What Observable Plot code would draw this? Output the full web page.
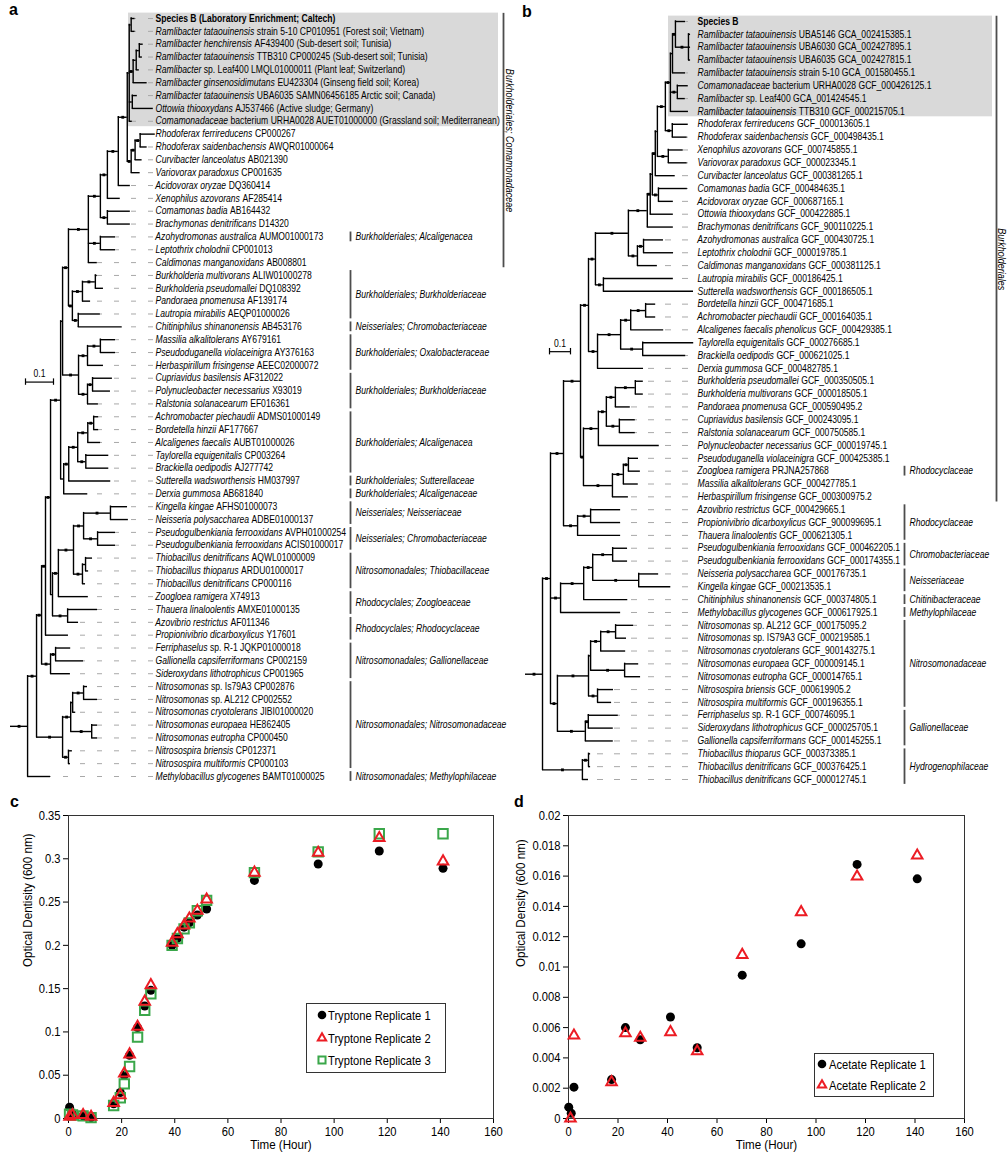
<!DOCTYPE html>
<html><head><meta charset="utf-8">
<script src="https://cdn.jsdelivr.net/npm/d3@7"></script>
<script src="https://cdn.jsdelivr.net/npm/@observablehq/plot@0.6"></script>
<style>
body{margin:0;background:#fff;}
#page{position:relative;width:1007px;height:1159px;overflow:hidden;background:#fff;}
.panel{position:absolute;}
.letter{position:absolute;font:bold 16px "Liberation Sans",Arial,sans-serif;color:#000;}
</style></head><body><div id="page"></div>
<script>
// ---------------- DATA ----------------
const treeALabels = [
"Species B (Laboratory Enrichment; Caltech)",
"*Ramlibacter tataouinensis* strain 5-10 CP010951 (Forest soil; Vietnam)",
"*Ramlibacter henchirensis* AF439400 (Sub-desert soil; Tunisia)",
"*Ramlibacter tataouinensis* TTB310 CP000245 (Sub-desert soil; Tunisia)",
"*Ramlibacter* sp. Leaf400 LMQL01000011 (Plant leaf; Switzerland)",
"*Ramlibacter ginsenosidimutans* EU423304 (Ginseng field soil; Korea)",
"*Ramlibacter tataouinensis* UBA6035 SAMN06456185 Arctic soil; Canada)",
"*Ottowia thiooxydans* AJ537466 (Active sludge; Germany)",
"*Comamonadaceae* bacterium URHA0028 AUET01000000 (Grassland soil; Mediterranean)",
"*Rhodoferax ferrireducens* CP000267",
"*Rhodoferax saidenbachensis* AWQR01000064",
"*Curvibacter lanceolatus* AB021390",
"*Variovorax paradoxus* CP001635",
"*Acidovorax oryzae* DQ360414",
"*Xenophilus azovorans* AF285414",
"*Comamonas badia* AB164432",
"*Brachymonas denitrificans* D14320",
"*Azohydromonas australica* AUMO01000173",
"*Leptothrix cholodnii* CP001013",
"*Caldimonas manganoxidans* AB008801",
"*Burkholderia multivorans* ALIW01000278",
"*Burkholderia pseudomallei* DQ108392",
"*Pandoraea pnomenusa* AF139174",
"*Lautropia mirabilis* AEQP01000026",
"*Chitiniphilus shinanonensis* AB453176",
"*Massilia alkalitolerans* AY679161",
"*Pseudoduganella violaceinigra* AY376163",
"*Herbaspirillum frisingense* AEEC02000072",
"*Cupriavidus basilensis* AF312022",
"*Polynucleobacter necessarius* X93019",
"*Ralstonia solanacearum* EF016361",
"*Achromobacter piechaudii* ADMS01000149",
"*Bordetella hinzii* AF177667",
"*Alcaligenes faecalis* AUBT01000026",
"*Taylorella equigenitalis* CP003264",
"*Brackiella oedipodis* AJ277742",
"*Sutterella wadsworthensis* HM037997",
"*Derxia gummosa* AB681840",
"*Kingella kingae* AFHS01000073",
"*Neisseria polysaccharea* ADBE01000137",
"*Pseudogulbenkiania ferrooxidans* AVPH01000254",
"*Pseudogulbenkiania ferrooxidans* ACIS01000017",
"*Thiobacillus denitrificans* AQWL01000009",
"*Thiobacillus thioparus* ARDU01000017",
"*Thiobacillus denitrificans* CP000116",
"*Zoogloea ramigera* X74913",
"*Thauera linaloolentis* AMXE01000135",
"*Azovibrio restrictus* AF011346",
"*Propionivibrio dicarboxylicus* Y17601",
"*Ferriphaselus* sp. R-1 JQKP01000018",
"*Gallionella capsiferriformans* CP002159",
"*Sideroxydans lithotrophicus* CP001965",
"*Nitrosomonas* sp. Is79A3 CP002876",
"*Nitrosomonas* sp. AL212 CP002552",
"*Nitrosomonas cryotolerans* JIBI01000020",
"*Nitrosomonas europaea* HE862405",
"*Nitrosomonas eutropha* CP000450",
"*Nitrosospira briensis* CP012371",
"*Nitrosospira multiformis* CP000103",
"*Methylobacillus glycogenes* BAMT01000025"
];
const treeABold = [1];
// tree A topology (leaf numbers refer to treeALabels), branch lengths in substitutions/site
const aRamli = "((1:0.014,2:0.014):0.007,(((3:0.014,4:0.011):0.011,5:0.011):0.011,6:0.05):0.014,(7:0.018,8:0.075):0.011,9:0.011)";
const aRhodo = "(((10:0.054,11:0.025):0.018,12:0.025):0.014,13:0.032)";
const aF = `((((${aRamli}:0.007,${aRhodo}:0.014):0.032,14:0.043):0.039,15:0.046):0.025,(16:0.082,17:0.082):0.025)`;
const aE = `(${aF}:0.043,(18:0.054,19:0.054):0.043,20:0.032)`;
const aK = "(((21:0.007,22:0.029):0.046,23:0.029):0.036,(24:0.079,25:0.157):0.021)";
const aP = "(((26:0.054,27:0.054):0.046,28:0.057):0.032,((29:0.071,30:0.064):0.018,31:0.039):0.032)";
const aQ = `((${aE}:0.071,${aK}:0.014):0.021,${aP}:0.057)`;
const aT = "(((((32:0.018,33:0.018):0.021,34:0.046):0.036,(35:0.082,36:0.082):0.029):0.032,37:0.15):0.018,38:0.086)";
const aU = `(${aQ}:0.007,${aT}:0.011)`;
const aV = "(((39:0.061,40:0.064):0.096,(41:0.064,42:0.064):0.05):0.036,((43:0.025,44:0.011):0.011,45:0.011):0.032)";
const aZ = `((${aV}:0.054,46:0.107):0.021,(47:0.107,48:0.039):0.054)`;
const aAB = `((${aU}:0.036,${aZ}:0.007):0.018,49:0.082)`;
const aGal = "((50:0.054,51:0.1):0.018,52:0.071)";
const aNitro = "((((53:0.014,54:0.05):0.039,55:0.011):0.007,(56:0.021,57:0.021):0.075):0.029,(58:0.014,59:0.007):0.021)";
const treeANewick = `(((${aAB}:0.014,${aGal}:0.032):0.018,${aNitro}:0.093):0.032,60:0.082):0.061`;
const treeAGroups = [
  {from: 18, to: 18, name: "Burkholderiales; Alcaligenacea"},
  {from: 21, to: 24, name: "Burkholderiales; Burkholderiaceae"},
  {from: 25, to: 25, name: "Neisseriales; Chromobacteriaceae"},
  {from: 26, to: 28, name: "Burkholderiales; Oxalobacteraceae"},
  {from: 29, to: 31, name: "Burkholderiales; Burkholderiaceae"},
  {from: 32, to: 36, name: "Burkholderiales; Alcaligenacea"},
  {from: 37, to: 37, name: "Burkholderiales; Sutterellaceae"},
  {from: 38, to: 38, name: "Burkholderiales; Alcaligenaceae"},
  {from: 39, to: 40, name: "Neisseriales; Neisseriaceae"},
  {from: 41, to: 42, name: "Neisseriales; Chromobacteriaceae"},
  {from: 43, to: 45, name: "Nitrosomonadales; Thiobacillaceae"},
  {from: 46, to: 47, name: "Rhodocyclales; Zoogloeaceae"},
  {from: 48, to: 49, name: "Rhodocyclales; Rhodocyclaceae"},
  {from: 50, to: 52, name: "Nitrosomonadales; Gallionellaceae"},
  {from: 53, to: 59, name: "Nitrosomonadales; Nitrosomonadaceae"},
  {from: 60, to: 60, name: "Nitrosomonadales; Methylophilaceae"}
];
const treeAWide = {from: 1, to: 20, name: "Burkholderiales; Comamonadaceae"};

const treeBLabels = [
"Species B",
"*Ramlibacter tataouinensis* UBA5146 GCA_002415385.1",
"*Ramlibacter tataouinensis* UBA6030 GCA_002427895.1",
"*Ramlibacter tataouinensis* UBA6035 GCA_002427815.1",
"*Ramlibacter tataouinensis* strain 5-10 GCA_001580455.1",
"*Comamonadaceae* bacterium URHA0028 GCF_000426125.1",
"*Ramlibacter* sp. Leaf400 GCA_001424545.1",
"*Ramlibacter tataouinensis* TTB310 GCF_000215705.1",
"*Rhodoferax ferrireducens* GCF_000013605.1",
"*Rhodoferax saidenbachensis* GCF_000498435.1",
"*Xenophilus azovorans* GCF_000745855.1",
"*Variovorax paradoxus* GCF_000023345.1",
"*Curvibacter lanceolatus* GCF_000381265.1",
"*Comamonas badia* GCF_000484635.1",
"*Acidovorax oryzae* GCF_000687165.1",
"*Ottowia thiooxydans* GCF_000422885.1",
"*Brachymonas denitrificans* GCF_900110225.1",
"*Azohydromonas australica* GCF_000430725.1",
"*Leptothrix cholodnii* GCF_000019785.1",
"*Caldimonas manganoxidans* GCF_000381125.1",
"*Lautropia mirabilis* GCF_000186425.1",
"*Sutterella wadsworthensis* GCF_000186505.1",
"*Bordetella hinzii* GCF_000471685.1",
"*Achromobacter piechaudii* GCF_000164035.1",
"*Alcaligenes faecalis phenolicus* GCF_000429385.1",
"*Taylorella equigenitalis* GCF_000276685.1",
"*Brackiella oedipodis* GCF_000621025.1",
"*Derxia gummosa* GCF_000482785.1",
"*Burkholderia pseudomallei* GCF_000350505.1",
"*Burkholderia multivorans* GCF_000018505.1",
"*Pandoraea pnomenusa* GCF_000590495.2",
"*Cupriavidus basilensis* GCF_000243095.1",
"*Ralstonia solanacearum* GCF_000750585.1",
"*Polynucleobacter necessarius* GCF_000019745.1",
"*Pseudoduganella violaceinigra* GCF_000425385.1",
"*Zoogloea ramigera* PRJNA257868",
"*Massilia alkalitolerans* GCF_000427785.1",
"*Herbaspirillum frisingense* GCF_000300975.2",
"*Azovibrio restrictus* GCF_000429665.1",
"*Propionivibrio dicarboxylicus* GCF_900099695.1",
"*Thauera linaloolentis* GCF_000621305.1",
"*Pseudogulbenkiania ferrooxidans* GCF_000462205.1",
"*Pseudogulbenkiania ferrooxidans* GCF_000174355.1",
"*Neisseria polysaccharea* GCF_000176735.1",
"*Kingella kingae* GCF_000213535.1",
"*Chitiniphilus shinanonensis* GCF_000374805.1",
"*Methylobacillus glycogenes* GCF_000617925.1",
"*Nitrosomonas* sp. AL212 GCF_000175095.2",
"*Nitrosomonas* sp. IS79A3 GCF_000219585.1",
"*Nitrosomonas cryotolerans* GCF_900143275.1",
"*Nitrosomonas europaea* GCF_000009145.1",
"*Nitrosomonas eutropha* GCF_000014765.1",
"*Nitrosospira briensis* GCF_000619905.2",
"*Nitrosospira multiformis* GCF_000196355.1",
"*Ferriphaselus* sp. R-1 GCF_000746095.1",
"*Sideroxydans lithotrophicus* GCF_000025705.1",
"*Gallionella capsiferriformans* GCF_000145255.1",
"*Thiobacillus thioparus* GCF_000373385.1",
"*Thiobacillus denitrificans* GCF_000376425.1",
"*Thiobacillus denitrificans* GCF_000012745.1"
];
const treeBBold = [1];
const bSU = "(1:0.048,(2:0.01,3:0.01,4:0.01):0.062)";
const bG2 = `((${bSU}:0.014,5:0.062):0.01,(6:0.052,7:0.038):0.033,8:0.086)`;
const bG000 = `(((${bG2}:0.024,(9:0.076,10:0.071):0.033):0.038,(11:0.071,12:0.09):0.052):0.01,13:0.095)`;
const bCC = `(((${bG000}:0.014,(14:0.138,15:0.071):0.029):0.01,16:0.11):0.014,17:0.124)`;
const bC595 = `((${bCC}:0.09,((18:0.095,19:0.143):0.029,20:0.095):0.043):0.157,(21:0.333,22:0.429):0.038)`;
const bAlcD = "((((23:0.048,24:0.048):0.071,25:0.157):0.048,(26:0.243,27:0.205):0.105):0.11,28:0.219)";
const bBurk = "((((29:0.038,30:0.038):0.095,31:0.071):0.043,(32:0.076,33:0.076):0.062):0.038,34:0.29)";
const bOxalo = "(((35:0.048,36:0.057):0.024,37:0.071):0.052,38:0.076)";
const bBK = `((${bC595}:0.033,${bAlcD}:0.043):0.038,(${bBurk}:0.071,${bOxalo}:0.138):0.014)`;
const bRhodo = "((39:0.143,40:0.143):0.062,41:0.205)";
const bNM = "((((42:0.071,43:0.071):0.095,(44:0.095,45:0.152):0.219):0.043,46:0.21):0.11,47:0.286)";
const bN = "((((48:0.086,49:0.052):0.071,50:0.119):0.048,(51:0.067,52:0.076):0.162):0.01,(53:0.076,54:0.067):0.043)";
const bG = "((55:0.143,56:0.119):0.014,57:0.133)";
const treeBNewick = `(((${bBK}:0.081,${bRhodo}:0.067):0.062,${bNM}:0.048,(${bN}:0.148,${bG}:0.133):0.033):0.038,((58:0.01,59:0.01):0.029,60:0.029):0.19):0.081`;
const treeBGroups = [
  {from: 36, to: 36, name: "Rhodocyclaceae"},
  {from: 39, to: 41, name: "Rhodocyclaceae"},
  {from: 42, to: 43, name: "Chromobacteriaceae"},
  {from: 44, to: 45, name: "Neisseriaceae"},
  {from: 46, to: 46, name: "Chitinibacteraceae"},
  {from: 47, to: 47, name: "Methylophilaceae"},
  {from: 48, to: 54, name: "Nitrosomonadaceae"},
  {from: 55, to: 57, name: "Gallionellaceae"},
  {from: 58, to: 60, name: "Hydrogenophilaceae"}
];
const treeBWide = {from: 1, to: 38, name: "Burkholderiales"};
const scaleBarLength = 0.1;

// growth curves
const tryptoneTime = [0.4, 1.5, 5.5, 8.5, 17, 19.5, 21, 23, 26, 28.7, 31, 39, 41, 43.5, 45.5, 48.5, 52, 70, 94, 117, 141];
const tryptoneRep1 = [0.013, 0.005, 0.003, 0.001, 0.017, 0.030, 0.050, 0.073, 0.105, 0.130, 0.148, 0.200, 0.208, 0.221, 0.226, 0.235, 0.242, 0.275, 0.294, 0.309, 0.289];
const tryptoneRep2 = [0.002, 0.004, 0.004, 0.002, 0.018, 0.027, 0.052, 0.074, 0.106, 0.135, 0.154, 0.203, 0.213, 0.223, 0.231, 0.240, 0.253, 0.284, 0.307, 0.324, 0.297];
const tryptoneRep3 = [0.005, 0.004, 0.003, 0.001, 0.015, 0.024, 0.040, 0.060, 0.094, 0.125, 0.144, 0.200, 0.208, 0.219, 0.226, 0.240, 0.252, 0.284, 0.308, 0.329, 0.329];
const acetateTime1 = [0.1, 1.1, 2.2, 17.4, 23, 29, 41.2, 52, 70.2, 94, 116.6, 140.9];
const acetateRep1 = [0.00075, 0.00035, 0.00207, 0.00257, 0.0060, 0.0052, 0.0067, 0.00467, 0.00946, 0.01153, 0.01677, 0.01582];
const acetateTime2 = [0.8, 2.2, 17.4, 23, 29, 41.2, 52, 70.2, 94, 116.6, 140.9];
const acetateRep2 = [0.0, 0.00548, 0.0024, 0.00563, 0.00533, 0.0057, 0.00444, 0.0108, 0.01362, 0.01597, 0.01736];
const tryptoneTicksY = d3.range(0, 0.3501, 0.05);
const acetateTicksY = d3.range(0, 0.02001, 0.002);
const timeTicks = d3.range(0, 161, 20);

// ---------------- HELPERS ----------------
const FONT = '"Liberation Sans",Arial,Helvetica,sans-serif';
const CONDENSE = 0.86; // the reference's lettering is horizontally narrow
const page = document.getElementById("page");
const ctx = document.createElement("canvas").getContext("2d");
function textWidth(s, style, size) {
  ctx.font = `${style} ${size}px "Liberation Sans", Arial, sans-serif`;
  return ctx.measureText(s).width * CONDENSE;
}
function place(el, left, top) {
  const d = document.createElement("div");
  d.className = "panel"; d.style.left = left + "px"; d.style.top = top + "px";
  d.appendChild(el); page.appendChild(d); return d;
}
function letter(t, left, top) {
  const d = document.createElement("div"); d.className = "letter";
  d.style.left = left + "px"; d.style.top = top + "px"; d.textContent = t; page.appendChild(d);
}
function parseNewick(s) {
  let i = 0;
  function node() {
    const n = {children: []};
    if (s[i] === "(") {
      i++;
      n.children.push(node());
      while (s[i] === ",") { i++; n.children.push(node()); }
      i++;
    }
    let name = "";
    while (i < s.length && !":,()".includes(s[i])) name += s[i++];
    n.name = name; n.length = 0;
    if (s[i] === ":") { i++; let num = ""; while (i < s.length && !",()".includes(s[i])) num += s[i++]; n.length = +num; }
    return n;
  }
  return node();
}
function layoutTree(root) {
  const nodes = [];
  (function visit(n, px) {
    n.px = px; n.x = px + n.length; nodes.push(n);
    if (n.children.length) {
      n.children.forEach(c => visit(c, n.x));
      n.y = (n.children[0].y + n.children[n.children.length - 1].y) / 2;
    } else { n.leaf = +n.name - 1; n.y = n.leaf; }
  })(root, 0);
  return nodes;
}
// split "*italic* normal" labels into separately positioned runs
function labelRuns(leaves, labels, boldList, size) {
  const bold = new Set(boldList.map(b => b - 1));
  const runs = [];
  leaves.forEach(l => {
    let off = 0;
    labels[l.leaf].split("*").forEach((seg, i) => {
      if (!seg) return;
      const style = bold.has(l.leaf) ? "bold" : (i % 2 === 1 ? "italic" : "normal");
      const lead = seg.length - seg.trimStart().length;
      off += lead * textWidth(" ", style, size);
      const txt = seg.trim();
      if (txt) runs.push({y: l.y, text: txt, style, off});
      off += textWidth(txt, style, size);
      const trail = seg.length - seg.trimEnd().length;
      if (seg.trim()) off += trail * textWidth(" ", style, size);
    });
  });
  return runs;
}

function drawTree(cfg) {
  const root = parseNewick(cfg.newick);
  const nodes = layoutTree(root);
  const xs = d3.scaleLinear([0, 1], cfg.xRange);
  const pxPerUnit = cfg.xRange[1] - cfg.xRange[0];
  const leaves = nodes.filter(n => !n.children.length);
  const internal = nodes.filter(n => n.children.length);
  const labelX = xs.invert(cfg.labelPx), dashX = xs.invert(cfg.dashPx), barX = xs.invert(cfg.barPx), wideX = xs.invert(cfg.widePx);
  const runs = labelRuns(leaves, cfg.labels, cfg.bold, cfg.fontSize);
  const runX = d => labelX + d.off / pxPerUnit;
  const markers = nodes.filter(n => n.children.length && n.length >= 0.012).map(n => ({x: (n.px + n.x) / 2, y: n.y}));
  const sb = cfg.scaleBar;
  const sbX1 = xs.invert(sb.px), sbX2 = sbX1 + scaleBarLength;
  return Plot.plot({
    width: cfg.width, height: cfg.height, margin: 0,
    x: {domain: [0, 1], range: cfg.xRange, axis: null},
    y: {domain: [0, 59], range: cfg.yRange, axis: null},
    style: {background: "transparent", overflow: "visible", fontFamily: FONT, color: "black"},
    marks: [
      Plot.rect([cfg.box], {x1: xs.invert(cfg.box.left), x2: xs.invert(cfg.box.right), y1: d => d.from - 1 - 0.42, y2: d => d.to - 1 + 0.42, fill: "#d9d9d9"}),
      Plot.ruleY(leaves.filter(l => l.x < dashX), {y: "y", x1: dashX, x2: "x", stroke: "#a8a8a8", strokeWidth: 1, strokeDasharray: cfg.dash}),
      Plot.ruleY(nodes.filter(n => n.length > 0), {y: "y", x1: "px", x2: "x", stroke: "black", strokeWidth: 1.4}),
      Plot.ruleX(internal, {x: "x", y1: n => n.children[0].y, y2: n => n.children[n.children.length - 1].y, stroke: "black", strokeWidth: 1.4, strokeLinecap: "square"}),
      Plot.dot(markers, {x: "x", y: "y", symbol: "square", r: 1.6, fill: "black"}),
      Plot.text(runs.filter(r => r.style === "italic"), {x: runX, y: "y", text: "text", textAnchor: "start", fontStyle: "italic", fontSize: cfg.fontSize}),
      Plot.text(runs.filter(r => r.style === "normal"), {x: runX, y: "y", text: "text", textAnchor: "start", fontSize: cfg.fontSize}),
      Plot.text(runs.filter(r => r.style === "bold"), {x: runX, y: "y", text: "text", textAnchor: "start", fontWeight: "bold", fontSize: cfg.fontSize}),
      Plot.ruleX(cfg.groups, {x: barX, y1: d => d.from - 1 - 0.38, y2: d => d.to - 1 + 0.38, stroke: "#4d4d4d", strokeWidth: 1.8}),
      Plot.text(cfg.groups, {x: barX, dx: 5, y: d => (d.from + d.to) / 2 - 1, text: "name", textAnchor: "start", fontStyle: "italic", fontSize: cfg.fontSize}),
      Plot.ruleX([cfg.wide], {x: wideX, y1: d => d.from - 1 - 0.4, y2: d => d.to - 1 + 0.4, stroke: "#4d4d4d", strokeWidth: 1.8}),
      Plot.text([cfg.wide], {x: wideX, dx: cfg.wideDx, y: d => (d.from + d.to) / 2 - 1, text: "name", rotate: 90, fontStyle: "italic", fontSize: cfg.fontSize + 0.5}),
      Plot.ruleY([sb], {y: "row", x1: sbX1, x2: sbX2, stroke: "black", strokeWidth: 1.2}),
      Plot.ruleX([sbX1, sbX2], {x: d => d, y1: sb.row - 0.25, y2: sb.row + 0.25, stroke: "black", strokeWidth: 1.2}),
      Plot.text([String(scaleBarLength)], {x: (sbX1 + sbX2) / 2, y: sb.row, dy: -8, text: d => d, fontSize: cfg.fontSize})
    ]
  });
}

// ---------------- TREES ----------------
place(drawTree({
  newick: treeANewick, labels: treeALabels, bold: treeABold, groups: treeAGroups, wide: treeAWide,
  width: 520, height: 790, xRange: [10, 290], yRange: [18, 776],
  labelPx: 155, dashPx: 153, dash: "5,12", barPx: 350, widePx: 503, wideDx: 6,
  box: {from: 1, to: 9, left: 128, right: 498}, scaleBar: {px: 25, row: 28.3}, fontSize: 10
}), 0, 0);
place(drawTree({
  newick: treeBNewick, labels: treeBLabels, bold: treeBBold, groups: treeBGroups, wide: treeBWide,
  width: 507, height: 790, xRange: [25, 235], yRange: [21, 779],
  labelPx: 197, dashPx: 188, dash: "6,11", barPx: 404, widePx: 496, wideDx: 5,
  box: {from: 1, to: 8, left: 168, right: 492}, scaleBar: {px: 49, row: 25.7}, fontSize: 10
}), 500, 0);

// ---------------- GROWTH CURVES ----------------
const fmt = d3.format("~g");
function growthPlot(cfg) {
  return Plot.plot({
    width: cfg.width, height: 369, marginLeft: 68, marginRight: cfg.marginRight, marginTop: 25, marginBottom: 41,
    style: {background: "transparent", overflow: "visible", fontFamily: FONT, fontSize: "13px", color: "black"},
    x: {domain: [0, 160], ticks: timeTicks, tickSize: 5, tickPadding: 3, label: null},
    y: {domain: cfg.yDomain, ticks: cfg.yTicks, tickFormat: fmt, tickSize: 5, tickPadding: 3, label: null},
    marks: [
      Plot.frame({stroke: "#333"}),
      ...cfg.marks,
      Plot.text(["Time (Hour)"], {frameAnchor: "bottom", dy: 30, text: d => d, fontSize: 13.5}),
      Plot.text([cfg.yTitle], {frameAnchor: "left", dx: cfg.yTitleDx, rotate: -90, text: d => d, fontSize: 13.5})
    ]
  });
}
const tryptone = tryptoneTime.map((t, i) => ({t, r1: tryptoneRep1[i], r2: tryptoneRep2[i], r3: tryptoneRep3[i]}));
const acetate1 = acetateTime1.map((t, i) => ({t, v: acetateRep1[i]}));
const acetate2 = acetateTime2.map((t, i) => ({t, v: acetateRep2[i]}));
const RED = "#ec1c24", GREEN = "#3aa74a";
place(growthPlot({
  width: 500, marginRight: 7, yDomain: [0, 0.35], yTicks: tryptoneTicksY, yTitle: "Optical Dentisity (600 nm)", yTitleDx: -41,
  marks: [
    Plot.dot(tryptone, {x: "t", y: "r1", r: 4.5, fill: "black"}),
    Plot.dot(tryptone, {x: "t", y: "r3", symbol: "square", r: 5.3, stroke: GREEN, strokeWidth: 2, fill: "none"}),
    Plot.dot(tryptone, {x: "t", y: "r2", symbol: "triangle", r: 3.9, stroke: RED, strokeWidth: 2, fill: "none"})
  ]
}), 0, 790);
place(growthPlot({
  width: 507, marginRight: 43, yDomain: [0, 0.02], yTicks: acetateTicksY, yTitle: "Optical Density (600 nm)", yTitleDx: -48,
  marks: [
    Plot.dot(acetate1, {x: "t", y: "v", r: 4.5, fill: "black"}),
    Plot.dot(acetate2, {x: "t", y: "v", symbol: "triangle", r: 3.9, stroke: RED, strokeWidth: 2, fill: "none"})
  ]
}), 500, 790);

// legends (box drawn inside a slightly wider svg so nothing is clipped)
function legend(left, top, w, h, items) {
  const svg = d3.create("svg").attr("width", w + 30).attr("height", h).style("display", "block").style("overflow", "visible");
  svg.append("rect").attr("x", 0.5).attr("y", 0.5).attr("width", w - 1).attr("height", h - 1).attr("fill", "white").attr("stroke", "#333");
  items.forEach(it => {
    const g = svg.append("g").attr("transform", `translate(${it.sx},${it.y})`);
    if (it.kind === "circle") g.append("circle").attr("r", 4.3).attr("fill", "black");
    else g.append("path").attr("d", d3.symbol(it.kind === "triangle" ? d3.symbolTriangle : d3.symbolSquare, it.kind === "triangle" ? 30 : 50)()).attr("fill", "none").attr("stroke", it.color).attr("stroke-width", 2);
    svg.append("text").attr("x", it.tx).attr("y", it.y).attr("dy", "0.35em").attr("font-family", FONT).attr("font-size", 13).text(it.label);
  });
  place(svg.node(), left, top);
}
legend(306, 1003, 140, 70, [
  {kind: "circle", label: "Tryptone Replicate 1", sx: 16, tx: 22, y: 12},
  {kind: "triangle", label: "Tryptone Replicate 2", color: RED, sx: 16, tx: 22, y: 35},
  {kind: "square", label: "Tryptone Replicate 3", color: GREEN, sx: 16, tx: 22, y: 57}
]);
legend(814, 1053, 120, 44, [
  {kind: "circle", label: "Acetate Replicate 1", sx: 8, tx: 15, y: 11},
  {kind: "triangle", label: "Acetate Replicate 2", color: RED, sx: 8, tx: 15, y: 32}
]);

letter("a", 9, 1); letter("b", 522, 3); letter("c", 10, 793); letter("d", 514, 793);

// narrow the lettering like the reference: scale each text horizontally about its own anchor
page.querySelectorAll("svg text").forEach(t => {
  const bb = t.getBBox();
  if (!bb.width) return;
  const anchor = getComputedStyle(t).textAnchor;
  const xs = t.x && t.x.baseVal && t.x.baseVal.numberOfItems ? t.x.baseVal.getItem(0).value : bb.x;
  const ax = anchor === "middle" ? bb.x + bb.width / 2 : anchor === "end" ? bb.x + bb.width : xs;
  const prev = t.getAttribute("transform") || "";
  t.setAttribute("transform", `${prev} translate(${ax},0) scale(${CONDENSE},1) translate(${-ax},0)`.trim());
});
</script></body></html>
